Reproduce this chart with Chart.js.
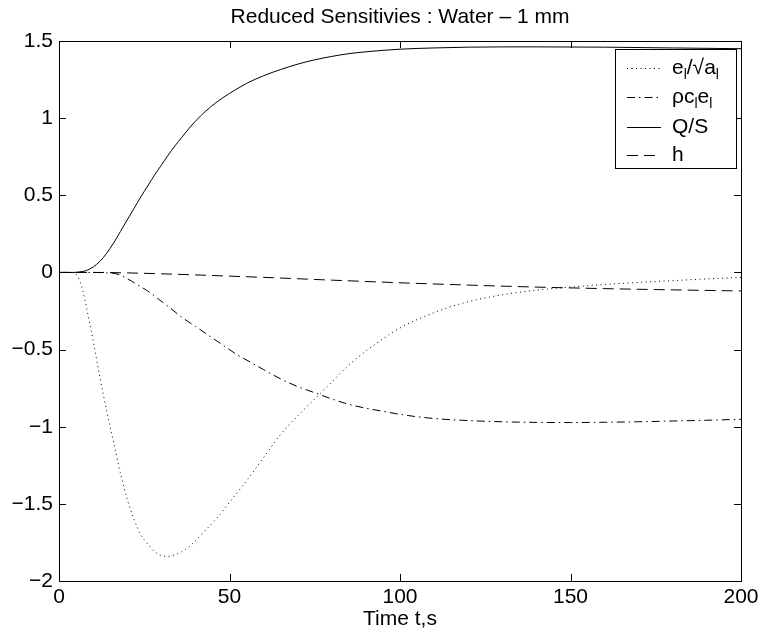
<!DOCTYPE html>
<html>
<head>
<meta charset="utf-8">
<script src="https://cdn.jsdelivr.net/npm/chart.js@4.4.0/dist/chart.umd.min.js"></script>
<style>
html,body{margin:0;padding:0;background:#fff;}
canvas{display:block;}
</style>
</head>
<body>
<canvas id="c" width="763" height="632"></canvas>
<script>
// ---- data ----
const chartTitle = "Reduced Sensitivies : Water \u2013 1 mm";
const xAxisTitle = "Time t,s";
const xTickValues = [0, 50, 100, 150, 200];
const yTickValues = [-2, -1.5, -1, -0.5, 0, 0.5, 1, 1.5];

// e_l / sqrt(a_l)  (dotted)
const eaT = [0,4,5,6,7,8,9,10,12,14,16,18,20,22,24,26,28,30,32,34,36,38,40,43,46,50,55,60,65,70,75,80,85,90,95,100,110,120,130,140,150,160,170,180,190,200];
const eaV = [0,0,-0.01,-0.05,-0.12,-0.22,-0.33,-0.44,-0.68,-0.9,-1.1,-1.3,-1.47,-1.6,-1.7,-1.76,-1.81,-1.835,-1.84,-1.83,-1.81,-1.78,-1.74,-1.67,-1.6,-1.49,-1.35,-1.2,-1.05,-0.93,-0.82,-0.71,-0.6,-0.51,-0.43,-0.36,-0.26,-0.19,-0.145,-0.115,-0.095,-0.078,-0.065,-0.053,-0.042,-0.032];

// rho c_l e_l  (dash-dot)
const rcT = [0,10,14,17,20,23,26,29,32,36,40,44,48,52,56,60,65,70,75,80,85,90,95,100,110,120,130,140,150,160,170,180,190,200];
const rcV = [0,0,-0.003,-0.01,-0.04,-0.08,-0.12,-0.17,-0.22,-0.29,-0.35,-0.41,-0.47,-0.53,-0.58,-0.63,-0.69,-0.74,-0.78,-0.82,-0.855,-0.88,-0.9,-0.92,-0.947,-0.96,-0.968,-0.972,-0.973,-0.971,-0.968,-0.963,-0.958,-0.952];

// Q/S  (solid)
const qsT = [0,4,6,8,10,12,14,16,18,20,22,24,26,28,30,32,34,36,38,40,43,46,50,55,60,65,70,75,80,85,90,100,110,120,140,160,180,200];
const qsV = [0,0,0.003,0.012,0.035,0.072,0.125,0.19,0.265,0.34,0.415,0.49,0.56,0.63,0.695,0.76,0.82,0.875,0.93,0.98,1.045,1.1,1.16,1.225,1.275,1.315,1.35,1.378,1.4,1.418,1.43,1.447,1.455,1.46,1.462,1.46,1.455,1.45];

// h  (dashed)
const hT = [0,10,20,30,40,50,60,80,100,120,140,160,180,200];
const hV = [0,0,-0.003,-0.009,-0.016,-0.024,-0.032,-0.05,-0.067,-0.082,-0.095,-0.105,-0.113,-0.12];

const toXY = (t, v) => t.map((x, i) => ({x: x, y: v[i]}));

const FONT = "'Liberation Sans', Arial, Helvetica, sans-serif";
const FS = 21;

const series = [
  {label: "e/\u221Aa", data: toXY(eaT, eaV), dash: [1, 3.5],
   rich: [{t:"e"},{t:"l",sub:true},{t:"/\u221Aa"},{t:"l",sub:true}]},
  {label: "\u03C1ce", data: toXY(rcT, rcV), dash: [8, 4, 1.5, 4],
   rich: [{t:"\u03C1c"},{t:"l",sub:true},{t:"e"},{t:"l",sub:true}]},
  {label: "Q/S", data: toXY(qsT, qsV), dash: [],
   rich: [{t:"Q/S"}]},
  {label: "h", data: toXY(hT, hV), dash: [11, 6],
   rich: [{t:"h"}]}
];

const boxTicks = {
  id: 'boxTicks',
  afterDatasetsDraw(chart) {
    const ctx = chart.ctx, a = chart.chartArea;
    const xs = chart.scales.x, ys = chart.scales.y;
    ctx.save();
    ctx.strokeStyle = '#000';
    ctx.lineWidth = 1;
    ctx.setLineDash([]);
    ctx.strokeRect(Math.round(a.left)+0.5, Math.round(a.top)+0.5, Math.round(a.right-a.left), Math.round(a.bottom-a.top));
    const L = 7;
    ctx.beginPath();
    xTickValues.forEach(v => {
      const p = Math.round(xs.getPixelForValue(v)) + 0.5;
      ctx.moveTo(p, a.bottom); ctx.lineTo(p, a.bottom - L);
      ctx.moveTo(p, a.top); ctx.lineTo(p, a.top + L);
    });
    yTickValues.forEach(v => {
      const p = Math.round(ys.getPixelForValue(v)) + 0.5;
      ctx.moveTo(a.left, p); ctx.lineTo(a.left + L, p);
      ctx.moveTo(a.right, p); ctx.lineTo(a.right - L, p);
    });
    ctx.stroke();

    // legend
    const lx = 615.5, ly = 49.5, lw = 121, lh = 119;
    ctx.fillStyle = '#fff';
    ctx.fillRect(lx, ly, lw, lh);
    ctx.strokeRect(lx, ly, lw, lh);
    const rows = [68, 97, 127, 155];
    series.forEach((s, i) => {
      const y = rows[i] + 0.5;
      ctx.setLineDash(s.dash);
      ctx.beginPath();
      ctx.moveTo(627, y); ctx.lineTo(661, y);
      ctx.stroke();
      ctx.setLineDash([]);
      let x = 672;
      ctx.fillStyle = '#000';
      ctx.textBaseline = 'middle';
      ctx.textAlign = 'left';
      s.rich.forEach(p => {
        if (p.sub) {
          ctx.font = '14px ' + FONT;
          ctx.fillText(p.t, x, rows[i] + 7);
        } else {
          ctx.font = FS + 'px ' + FONT;
          ctx.fillText(p.t, x, rows[i]);
        }
        x += ctx.measureText(p.t).width;
      });
    });
    ctx.restore();
  }
};

const fmt = v => String(v).replace('-', '\u2212');

new Chart(document.getElementById('c'), {
  type: 'line',
  data: {
    datasets: series.map(s => ({
      label: s.label,
      data: s.data,
      borderColor: '#000',
      borderWidth: 1,
      borderDash: s.dash,
      pointRadius: 0,
      fill: false,
      cubicInterpolationMode: 'monotone'
    }))
  },
  options: {
    responsive: false,
    devicePixelRatio: 1,
    animation: false,
    layout: {padding: {left: 0, right: 22, top: 0, bottom: 0}},
    plugins: {
      legend: {display: false},
      tooltip: {enabled: false},
      title: {
        display: true,
        fullSize: false,
        text: chartTitle,
        color: '#000',
        font: {family: FONT, size: FS, weight: 'normal', lineHeight: 1.2},
        padding: {top: 5, bottom: 10.8}
      }
    },
    scales: {
      x: {
        type: 'linear',
        min: 0, max: 200,
        afterFit(scale) { scale.height = 51; },
        afterBuildTicks(scale) { scale.ticks = xTickValues.map(v => ({value: v})); },
        grid: {display: false, drawTicks: false, tickLength: 0},
        border: {display: false},
        ticks: {color: '#000', font: {family: FONT, size: FS}, padding: 4, maxRotation: 0,
                callback: v => fmt(v)},
        title: {display: true, text: xAxisTitle, color: '#000',
                font: {family: FONT, size: FS, lineHeight: 1.2}, padding: {top: 0, bottom: 0}}
      },
      y: {
        type: 'linear',
        min: -2, max: 1.5,
        afterFit(scale) { scale.width = 59; },
        afterBuildTicks(scale) { scale.ticks = yTickValues.map(v => ({value: v})); },
        grid: {display: false, drawTicks: false, tickLength: 0},
        border: {display: false},
        ticks: {color: '#000', font: {family: FONT, size: FS}, padding: 6,
                callback: v => fmt(v)}
      }
    }
  },
  plugins: [boxTicks]
});
</script>
</body>
</html>
